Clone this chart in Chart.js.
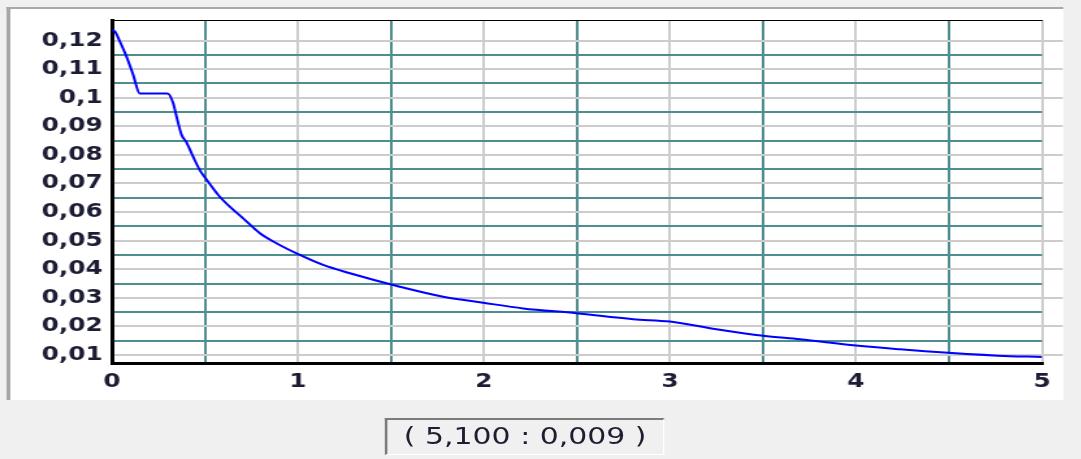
<!DOCTYPE html>
<html>
<head>
<meta charset="utf-8">
<script src="https://cdn.jsdelivr.net/npm/chart.js@4"></script>
<style>
  body { margin: 0; background: #f0f0f0; overflow: hidden; }
  /* whole window is drawn narrow and stretched sideways */
  #page { position: absolute; left: 0; top: 0; width: 832px; height: 459px; transform: scaleX(1.3); transform-origin: 0 0; }
  #panel { position: absolute; left: 5px; top: 7px; width: 813px; height: 393px; background: #fff;
           border-left: 3px solid #a6a6a6; border-top: 2px solid #a8a8a8; box-sizing: border-box; }
  #plot { position: absolute; left: 0; top: 0; }
  #readout { position: absolute; left: 296px; top: 418px; width: 215px; height: 37px; box-sizing: border-box;
             border-left: 2px solid #7c7c7c; border-top: 2px solid #7c7c7c; border-right: 1px solid #fff; border-bottom: 1px solid #fff;
             font: 23px "DejaVu Sans"; line-height: 33px; text-align: center; color: #1e1e32; white-space: pre; }
</style>
</head>
<body>
<div id="page">
  <div id="panel"></div>
  <canvas id="plot" width="832" height="400"></canvas>
  <div id="readout">( 5,100 : 0,009 )</div>
</div>
<script>
// curve samples
const xs = [0, 0.016, 0.043, 0.079, 0.115, 0.15, 0.3, 0.33, 0.348, 0.375, 0.4, 0.437, 0.473, 0.518, 0.572, 0.634, 0.706, 0.796, 0.885,
            1.011, 1.136, 1.28, 1.548, 1.781, 1.996, 2.211, 2.498, 2.803, 3.0, 3.25, 3.502, 3.699, 4.0, 4.237, 4.496, 4.828, 5.0, 5.1];
const ys = [0.1236, 0.1232, 0.1197, 0.1144, 0.108, 0.1015, 0.1015, 0.0981, 0.0934, 0.087, 0.0846, 0.0794, 0.0747, 0.0706, 0.066, 0.0619, 0.0578, 0.0526, 0.0491,
            0.045, 0.0415, 0.0386, 0.0339, 0.0304, 0.0283, 0.0263, 0.0246, 0.0225, 0.0217, 0.019, 0.0167, 0.0155, 0.0133, 0.012, 0.0108, 0.0096, 0.0093, 0.009];

const xTicks = [0, 0.5, 1, 1.5, 2, 2.5, 3, 3.5, 4, 4.5, 5];
const yTicks = [0.01, 0.015, 0.02, 0.025, 0.03, 0.035, 0.04, 0.045, 0.05, 0.055, 0.06, 0.065,
                0.07, 0.075, 0.08, 0.085, 0.09, 0.095, 0.1, 0.105, 0.11, 0.115, 0.12];
const yMin = 0.0072, yMax = 0.1272;

const teal = '#4e8e8e';
const gray = '#cccccc';
const none = 'rgba(0,0,0,0)';
const labelFont = { family: 'DejaVu Sans', size: 19, weight: 'bold' };
const labelColor = '#1c1c34';

// whole hundredths get a label and a gray line, halves get teal
const isMajor = v => Math.abs(v * 100 - Math.round(v * 100)) < 1e-6;
const fmt = v => String(+v.toFixed(3)).replace('.', ',');

new Chart(document.getElementById('plot'), {
  type: 'scatter',
  data: {
    datasets: [{
      data: xs.map((x, i) => ({ x: x, y: ys[i] })),
      showLine: true,
      cubicInterpolationMode: 'monotone',
      borderColor: '#0000ff',
      borderWidth: 2,
      pointRadius: 0,
      fill: false,
      clip: 0
    }]
  },
  options: {
    responsive: false,
    animation: false,
    layout: { padding: { top: 20, left: 0, right: 0, bottom: 0 } },
    plugins: { legend: { display: false }, tooltip: { enabled: false } },
    scales: {
      x: {
        type: 'linear', position: 'bottom', min: 0, max: 5,
        afterBuildTicks: s => { s.ticks = xTicks.map(v => ({ value: v })); },
        afterFit: s => { s.height = 37; },
        grid: {
          lineWidth: 2, drawTicks: false,
          color: c => !c.tick || c.tick.value === 0 ? none : (Number.isInteger(c.tick.value) ? gray : teal)
        },
        border: { color: '#000', width: 3 },
        ticks: {
          padding: 8, autoSkip: false, maxRotation: 0, font: labelFont, color: labelColor,
          callback: v => Number.isInteger(v) ? String(v) : ''
        }
      },
      x2: {
        type: 'linear', position: 'top', min: 0, max: 5,
        afterFit: s => { s.height = 0; },
        grid: { color: none, drawTicks: false },
        border: { color: '#000', width: 1 },
        ticks: { display: false }
      },
      y: {
        type: 'linear', position: 'left', min: yMin, max: yMax,
        afterBuildTicks: s => { s.ticks = yTicks.map(v => ({ value: v })); },
        afterFit: s => { s.width = 86; },
        grid: {
          lineWidth: 2, drawTicks: false,
          color: c => !c.tick ? none : (isMajor(c.tick.value) ? gray : teal)
        },
        border: { color: '#000', width: 3 },
        ticks: {
          padding: 7, autoSkip: false, font: labelFont, color: labelColor,
          callback: v => isMajor(v) ? fmt(v) : ''
        }
      },
      // gray lines run a little past the right edge
      y2: {
        type: 'linear', position: 'right', min: yMin, max: yMax,
        afterBuildTicks: s => { s.ticks = yTicks.map(v => ({ value: v })); },
        afterFit: s => { s.width = 30.5; },
        grid: {
          drawOnChartArea: false, drawTicks: true, tickLength: 16, lineWidth: 2,
          color: c => c.tick && isMajor(c.tick.value) ? gray : none
        },
        border: { display: false },
        ticks: { display: false }
      }
    }
  }
});
</script>
</body>
</html>
